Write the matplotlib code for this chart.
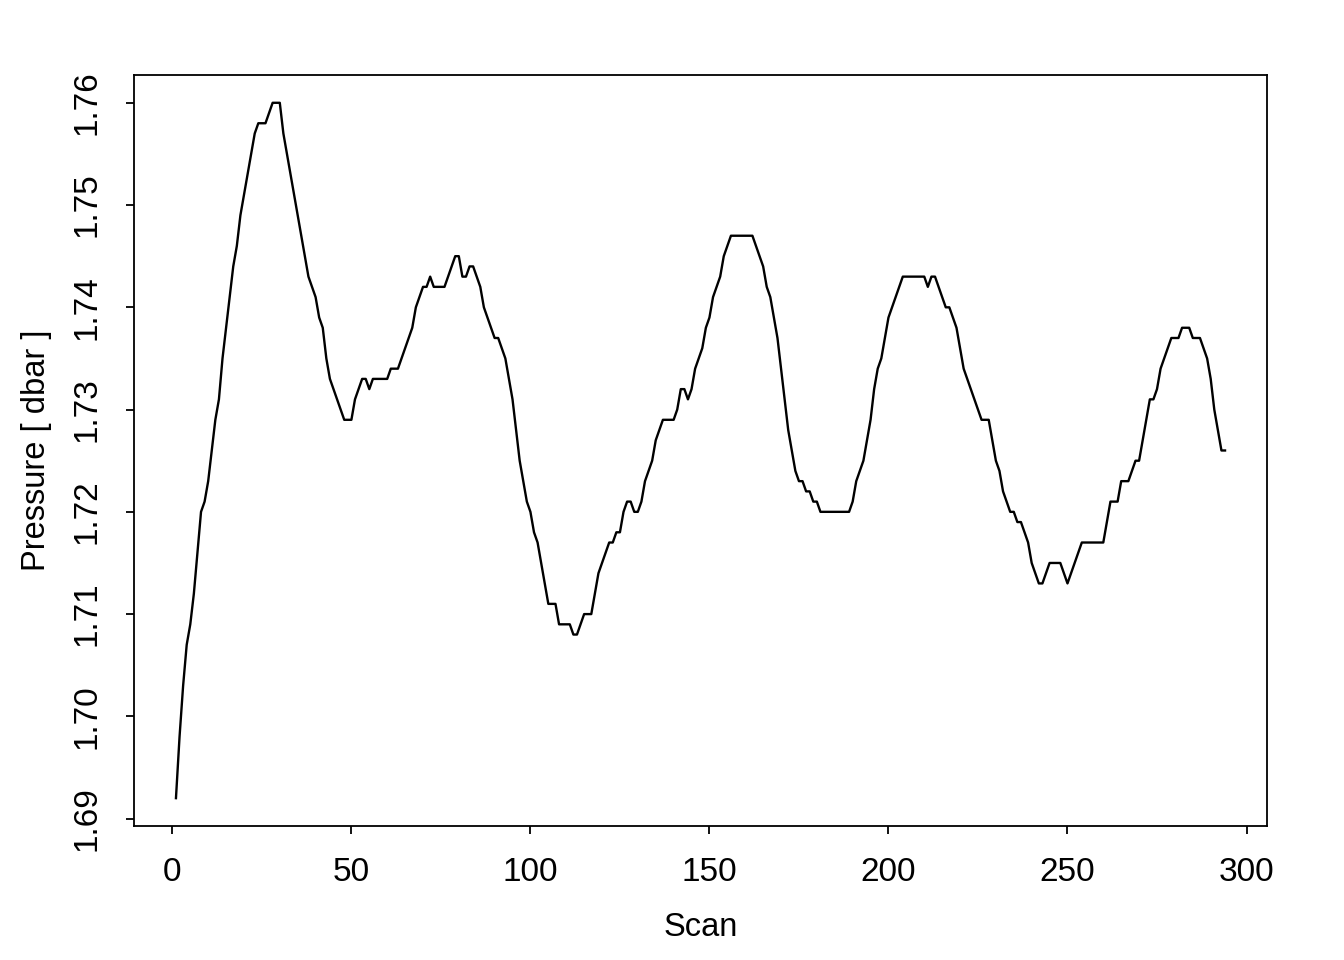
import matplotlib
matplotlib.use("Agg")
import matplotlib.pyplot as plt

plt.rcParams['font.family'] = ['Liberation Sans', 'DejaVu Sans']

# scan number and pressure
scan = list(range(1, 295))
pressure = [
    1.692, 1.698, 1.703, 1.707, 1.709, 1.712, 1.716, 1.720, 1.721, 1.723,
    1.726, 1.729, 1.731, 1.735, 1.738, 1.741, 1.744, 1.746, 1.749, 1.751,
    1.753, 1.755, 1.757, 1.758, 1.758, 1.758, 1.759, 1.760, 1.760, 1.760,
    1.757, 1.755, 1.753, 1.751, 1.749, 1.747, 1.745, 1.743, 1.742, 1.741,
    1.739, 1.738, 1.735, 1.733, 1.732, 1.731, 1.730, 1.729, 1.729, 1.729,
    1.731, 1.732, 1.733, 1.733, 1.732, 1.733, 1.733, 1.733, 1.733, 1.733,
    1.734, 1.734, 1.734, 1.735, 1.736, 1.737, 1.738, 1.740, 1.741, 1.742,
    1.742, 1.743, 1.742, 1.742, 1.742, 1.742, 1.743, 1.744, 1.745, 1.745,
    1.743, 1.743, 1.744, 1.744, 1.743, 1.742, 1.740, 1.739, 1.738, 1.737,
    1.737, 1.736, 1.735, 1.733, 1.731, 1.728, 1.725, 1.723, 1.721, 1.720,
    1.718, 1.717, 1.715, 1.713, 1.711, 1.711, 1.711, 1.709, 1.709, 1.709,
    1.709, 1.708, 1.708, 1.709, 1.710, 1.710, 1.710, 1.712, 1.714, 1.715,
    1.716, 1.717, 1.717, 1.718, 1.718, 1.720, 1.721, 1.721, 1.720, 1.720,
    1.721, 1.723, 1.724, 1.725, 1.727, 1.728, 1.729, 1.729, 1.729, 1.729,
    1.730, 1.732, 1.732, 1.731, 1.732, 1.734, 1.735, 1.736, 1.738, 1.739,
    1.741, 1.742, 1.743, 1.745, 1.746, 1.747, 1.747, 1.747, 1.747, 1.747,
    1.747, 1.747, 1.746, 1.745, 1.744, 1.742, 1.741, 1.739, 1.737, 1.734,
    1.731, 1.728, 1.726, 1.724, 1.723, 1.723, 1.722, 1.722, 1.721, 1.721,
    1.720, 1.720, 1.720, 1.720, 1.720, 1.720, 1.720, 1.720, 1.720, 1.721,
    1.723, 1.724, 1.725, 1.727, 1.729, 1.732, 1.734, 1.735, 1.737, 1.739,
    1.740, 1.741, 1.742, 1.743, 1.743, 1.743, 1.743, 1.743, 1.743, 1.743,
    1.742, 1.743, 1.743, 1.742, 1.741, 1.740, 1.740, 1.739, 1.738, 1.736,
    1.734, 1.733, 1.732, 1.731, 1.730, 1.729, 1.729, 1.729, 1.727, 1.725,
    1.724, 1.722, 1.721, 1.720, 1.720, 1.719, 1.719, 1.718, 1.717, 1.715,
    1.714, 1.713, 1.713, 1.714, 1.715, 1.715, 1.715, 1.715, 1.714, 1.713,
    1.714, 1.715, 1.716, 1.717, 1.717, 1.717, 1.717, 1.717, 1.717, 1.717,
    1.719, 1.721, 1.721, 1.721, 1.723, 1.723, 1.723, 1.724, 1.725, 1.725,
    1.727, 1.729, 1.731, 1.731, 1.732, 1.734, 1.735, 1.736, 1.737, 1.737,
    1.737, 1.738, 1.738, 1.738, 1.737, 1.737, 1.737, 1.736, 1.735, 1.733,
    1.730, 1.728, 1.726, 1.726,
]
x_ticks = [0, 50, 100, 150, 200, 250, 300]
y_ticks = [1.69, 1.70, 1.71, 1.72, 1.73, 1.74, 1.75, 1.76]

fig = plt.figure(figsize=(13.44, 9.6), dpi=100)
ax = fig.add_axes([0.0997, 0.1396, 0.843, 0.7823])

ax.plot(scan, pressure, color='black', linewidth=1.7)

# R-style 4% padding
xr = max(scan) - min(scan)
yr = max(pressure) - min(pressure)
ax.set_xlim(min(scan) - 0.04 * xr, max(scan) + 0.04 * xr)
ax.set_ylim(min(pressure) - 0.04 * yr, max(pressure) + 0.04 * yr)

ax.set_xticks(x_ticks)
ax.set_yticks(y_ticks)
ax.set_yticklabels(['%.2f' % v for v in y_ticks], rotation=90, va='center')
ax.tick_params(direction='out', length=5.5, width=1.3, labelsize=24, pad=17)
for s in ax.spines.values():
    s.set_linewidth(1.3)

ax.set_xlabel('Scan', fontsize=23.5, labelpad=17)
ax.set_ylabel('Pressure [ dbar ]', fontsize=23.5, labelpad=14)

fig.savefig('out.png', dpi=100)
